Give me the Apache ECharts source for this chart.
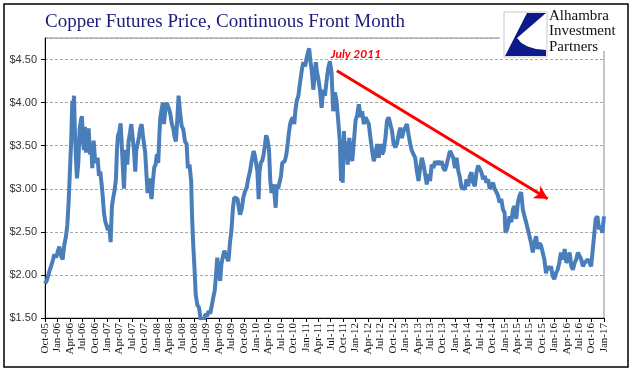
<!DOCTYPE html>
<html>
<head>
<meta charset="utf-8">
<script src="https://cdn.jsdelivr.net/npm/echarts@6/dist/echarts.min.js"></script>
<style>html,body{margin:0;padding:0;background:#fff}#c{width:641px;height:390px}</style>
</head>
<body>
<div id="c"></div>
<script>
// x = months since Oct-2005, y = price in $/lb
const months = [
0.0,0.4,0.7,1.05,1.45,1.85,2.25,2.65,3.05,3.46,3.86,4.26,4.67,5.07,5.39,5.71,6.03,6.28,6.44,6.6,6.76,7.0,7.24,7.48,7.72,8.05,8.37,8.69,8.93,9.17,9.41,9.65,9.9,10.2,10.54,10.86,11.18,11.42,11.75,12.07,12.39,12.71,13.03,13.35,13.68,13.92,14.24,14.56,14.88,15.2,15.53,15.85,16.17,16.49,16.81,17.14,17.38,17.62,17.94,18.26,18.5,18.75,19.07,19.31,19.55,19.87,20.19,20.52,20.84,21.16,21.48,21.8,22.04,22.37,22.69,23.0,23.33,23.65,23.97,24.2,24.46,24.78,25.1,25.42,25.74,26.07,26.39,26.71,27.03,27.35,27.6,27.84,28.16,28.48,28.72,29.04,29.36,29.69,30.01,30.33,30.65,30.97,31.3,31.62,31.94,32.26,
32.6,33.0,33.4,33.8,34.2,34.5,34.9,35.3,35.5,35.8,36.1,36.4,36.8,37.2,37.6,37.85,38.2,38.5,38.8,39.15,39.5,39.9,40.3,40.7,41.0,41.3,41.6,42.0,42.3,42.6,42.9,43.3,43.6,43.9,44.3,44.7,45.0,45.4,45.7,46.1,46.5,46.8,47.1,47.5,47.9,48.3,48.7,49.1,49.5,49.9,50.4,50.7,51.0,51.3,51.6,51.8,52.1,52.5,52.8,53.1,53.4,53.7,54.1,54.4,54.7,55.0,55.4,55.7,56.0,56.3,56.6,57.0,57.3,57.6,57.9,58.3,58.6,58.9,59.2,59.5,59.9,60.2,60.5,60.8,61.2,61.5,
61.8,62.1,62.4,62.8,63.2,63.6,63.8,64.1,64.4,64.8,65.1,65.4,65.7,66.0,66.4,66.8,67.2,67.6,68.0,68.4,68.8,69.2,69.6,70.0,70.4,70.8,71.2,71.5,71.7,71.9,
72.2,72.4,72.8,73.1,73.5,73.8,74.2,74.6,75.0,75.4,75.8,76.2,76.6,77.0,77.4,77.8,78.2,78.6,79.0,79.4,79.8,80.2,80.6,81.0,81.4,81.8,82.2,82.6,83.0,83.4,83.8,84.2,84.6,85.0,85.4,85.8,86.2,86.6,87.0,87.4,87.8,88.2,88.6,89.0,89.4,89.8,90.2,90.6,91.0,91.4,91.8,92.2,92.6,93.0,93.4,93.8,94.2,94.6,95.0,95.4,95.8,96.2,96.6,97.0,97.4,97.8,98.2,98.6,99.0,99.4,99.8,100.2,100.6,101.0,
101.4,101.8,102.2,102.6,103.0,103.4,103.8,104.2,104.6,105.0,105.4,105.8,106.2,106.6,107.0,107.4,107.8,108.2,108.6,109.0,109.4,109.8,110.2,110.6,111.0,111.2,111.6,111.8,112.2,112.6,113.0,113.4,113.8,114.2,114.6,115.0,115.4,115.8,116.2,116.6,117.0,117.4,117.8,118.2,118.6,119.0,119.4,119.8,120.2,120.6,121.0,121.4,121.8,122.2,122.6,123.0,123.4,123.8,124.2,124.6,125.1,125.5,125.9,126.3,126.7,127.1,127.5,127.9,128.3,128.7,129.1,129.5,129.9,130.3,130.7,131.1,131.5,131.9,132.3,132.6,133.0,133.4,133.8,134.2,134.6,135.0
];
const prices = [
1.90,1.93,1.92,2.04,2.10,2.16,2.24,2.20,2.22,2.33,2.22,2.18,2.35,2.45,2.58,2.85,3.22,3.50,3.75,4.02,3.85,4.08,3.63,3.35,3.12,3.30,3.70,3.80,3.84,3.55,3.45,3.72,3.42,3.55,3.70,3.40,3.50,3.24,3.56,3.35,3.30,3.36,3.15,3.20,3.05,2.93,2.72,2.62,2.60,2.52,2.58,2.38,2.80,2.90,2.98,3.12,3.45,3.62,3.66,3.76,3.55,3.30,3.00,3.30,3.45,3.28,3.55,3.65,3.75,3.60,3.45,3.20,3.45,3.52,3.60,3.70,3.75,3.62,3.50,3.42,3.20,2.95,3.12,3.00,2.88,3.10,3.25,3.28,3.40,3.30,3.60,3.82,3.92,4.00,3.75,3.90,4.00,3.98,3.92,3.85,3.75,3.70,3.60,3.55,3.80,4.08,
3.90,3.73,3.69,3.55,3.52,3.24,3.28,3.09,2.70,2.35,2.08,1.77,1.65,1.62,1.48,1.40,1.42,1.50,1.55,1.52,1.58,1.55,1.65,1.75,1.82,2.00,2.20,2.05,1.93,2.12,2.20,2.28,2.30,2.20,2.16,2.39,2.50,2.78,2.90,2.92,2.88,2.78,2.70,2.76,2.90,2.97,3.01,3.12,3.20,3.32,3.44,3.38,3.36,3.20,2.88,3.20,3.30,3.33,3.40,3.50,3.62,3.58,3.45,3.10,2.95,3.05,2.95,2.78,3.05,3.00,3.02,3.15,3.30,3.30,3.32,3.40,3.52,3.65,3.75,3.80,3.83,3.75,3.92,4.02,4.08,4.20,
4.30,4.40,4.47,4.42,4.52,4.60,4.63,4.48,4.38,4.15,4.30,4.47,4.35,4.28,4.15,3.94,4.15,4.08,4.25,4.40,4.48,4.35,3.90,4.12,4.02,3.80,3.55,3.09,3.15,3.07,
3.67,3.40,3.55,3.28,3.59,3.44,3.32,3.55,3.79,3.86,3.98,3.83,3.90,3.75,3.83,3.79,3.75,3.59,3.44,3.32,3.40,3.52,3.36,3.52,3.40,3.44,3.59,3.79,3.83,3.75,3.67,3.52,3.48,3.52,3.63,3.71,3.59,3.67,3.71,3.75,3.63,3.52,3.44,3.40,3.36,3.21,3.09,3.24,3.36,3.28,3.17,3.05,3.17,3.09,3.28,3.24,3.32,3.28,3.32,3.28,3.32,3.24,3.21,3.28,3.36,3.44,3.40,3.36,3.24,3.36,3.21,3.13,3.01,3.03,
3.00,3.11,3.03,3.15,3.19,3.07,3.03,3.19,3.27,3.23,3.19,3.11,3.15,3.07,3.11,3.00,3.03,3.07,3.00,2.96,2.92,2.84,2.88,2.76,2.72,2.49,2.53,2.57,2.68,2.61,2.76,2.80,2.65,2.84,2.92,2.96,2.76,2.68,2.61,2.53,2.45,2.37,2.26,2.37,2.45,2.30,2.37,2.34,2.26,2.18,2.02,2.10,2.06,2.10,1.99,1.95,2.02,2.06,2.14,2.26,2.18,2.30,2.14,2.18,2.26,2.10,2.06,2.14,2.18,2.26,2.22,2.18,2.10,2.14,2.14,2.18,2.14,2.10,2.10,2.45,2.65,2.68,2.53,2.57,2.49,2.68
];
const tickLabels = ['Oct-05','Jan-06','Apr-06','Jul-06','Oct-06','Jan-07','Apr-07','Jul-07','Oct-07','Jan-08','Apr-08','Jul-08','Oct-08','Jan-09','Apr-09','Jul-09','Oct-09','Jan-10','Apr-10','Jul-10','Oct-10','Jan-11','Apr-11','Jul-11','Oct-11','Jan-12','Apr-12','Jul-12','Oct-12','Jan-13','Apr-13','Jul-13','Oct-13','Jan-14','Apr-14','Jul-14','Oct-14','Jan-15','Apr-15','Jul-15','Oct-15','Jan-16','Apr-16','Jul-16','Oct-16','Jan-17'];
const titleText = 'Copper Futures Price, Continuous Front Month';
const annotationText = 'July 2011';
const annotationAt = [75.1, 4.56];
const arrowFrom = [70.5, 4.37];
const arrowTo = [121.4, 2.885];
const logoLines = ['Alhambra', 'Investment', 'Partners'];

const data = months.map((m, i) => [m, prices[i]]);
const chart = echarts.init(document.getElementById('c'), null, {renderer: 'canvas'});
chart.setOption({
  backgroundColor: '#ffffff',
  animation: false,
  title: {
    text: titleText, left: 40, top: 8,
    textStyle: {fontFamily: 'Liberation Serif', fontSize: 19, fontWeight: 'normal', color: '#1c1c78'}
  },
  grid: {left: 45, right: 37, top: 38, bottom: 72, show: true, borderColor: '#8a8a8a', borderWidth: 1},
  xAxis: {
    type: 'value', min: 0, max: 135, interval: 3,
    axisLine: {lineStyle: {color: '#000', width: 1}},
    axisTick: {show: true, length: 4, lineStyle: {color: '#000'}},
    axisLabel: {rotate: 90, margin: 5, fontFamily: 'Liberation Serif', fontSize: 11, color: '#111',
      formatter: v => tickLabels[Math.round(v / 3)] || ''},
    splitLine: {show: false}
  },
  yAxis: {
    type: 'value', min: 1.5, max: 4.75, interval: 0.5,
    axisLine: {show: true, lineStyle: {color: '#000', width: 1}},
    axisTick: {show: true, length: 4, lineStyle: {color: '#000'}},
    axisLabel: {showMaxLabel: false, margin: 8, fontFamily: 'Liberation Sans', fontSize: 11, color: '#333',
      formatter: v => '$' + v.toFixed(2)},
    splitLine: {show: true, lineStyle: {color: '#a8a8a8', type: [3, 2], width: 1}}
  },
  series: [{
    type: 'line', data: data, showSymbol: false, symbol: 'none', clip: true,
    lineStyle: {color: '#4a7ebb', width: 4},
    markLine: {
      silent: true, symbol: ['none', 'arrow'], symbolSize: [11, 13],
      lineStyle: {color: '#ff0000', width: 3, type: 'solid'},
      label: {show: false},
      data: [[{coord: arrowFrom}, {coord: arrowTo}]]
    },
    markPoint: {
      silent: true,
      data: [{coord: annotationAt, symbol: 'circle', symbolSize: 0,
        label: {show: true, position: 'inside', formatter: annotationText, color: '#ff0000',
          fontStyle: 'italic', fontWeight: 'bold', fontSize: 12, fontFamily: 'Lato'}}]
    }
  }],
  graphic: [
    {type: 'rect', z: 90, shape: {x: 500, y: 6, width: 126, height: 45}, style: {fill: '#fff'}},
    {type: 'rect', z: 91, shape: {x: 504, y: 12, width: 43, height: 45}, style: {fill: '#fff', stroke: '#c8c8c8', lineWidth: 1}},
    {type: 'polygon', z: 92, shape: {points: [[527,13],[546,13],[517,38],[521.4,42.9],[527.8,46.5],[535.9,48.9],[546,50],[546,56],[505,56]]}, style: {fill: '#0c1a8a'}},
    {type: 'text', z: 92, style: {x: 549, y: 8, text: logoLines.join('\n'), fontFamily: 'Liberation Serif', fontSize: 15, lineHeight: 15.5, fill: '#111'}},
    {type: 'rect', z: 100, shape: {x: 4, y: 4, width: 624, height: 363}, style: {fill: 'transparent', stroke: '#000', lineWidth: 1.5}}
  ]
});
</script>
</body>
</html>
